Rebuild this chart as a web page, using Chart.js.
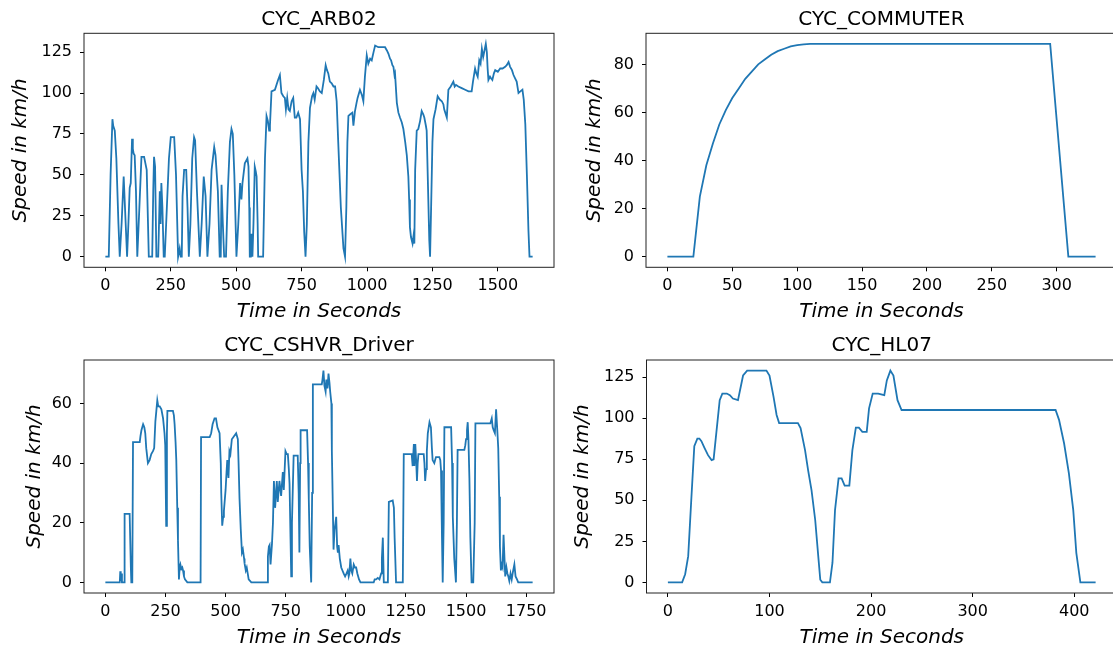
<!DOCTYPE html>
<html>
<head>
<meta charset="utf-8">
<script src="https://cdn.jsdelivr.net/npm/chart.js@4"></script>
<style>
  html, body { margin: 0; padding: 0; background: #fff; width: 1113px; height: 649px; overflow: hidden; position: relative; }
  canvas { position: absolute; }
</style>
</head>
<body>
<canvas id="arb"></canvas>
<canvas id="commuter"></canvas>
<canvas id="cshvr"></canvas>
<canvas id="hl07"></canvas>
<script>
// CYC_ARB02
const arbTime = [0,13,20,27,30,36,42,50,55,62,70,75,83,88,93,97,102,105,108,112,117,122,130,138,148,158,166,179,183,186,190,195,202,208,211,214,218,223,227,235,243,250,263,270,278,281,284,288,292,295,301,309,314,319,325,332,339,343,350,361,368,376,380,383,390,398,406,416,421,430,437,441,444,449,454,461,468,476,482,487,493,501,508,515,520,524,533,543,547,550,552,556,559,562,566,571,575,578,582,584,603,610,616,621,626,629,635,648,660,667,673,680,686,690,695,700,705,712,718,724,730,737,744,750,755,760,765,770,776,782,790,795,800,807,812,820,827,835,842,847,852,858,865,872,878,884,890,900,910,916,921,925,929,936,944,948,954,960,964,973,980,986,992,999,1005,1012,1018,1025,1031,1043,1055,1069,1076,1082,1088,1092,1097,1101,1105,1107,1114,1120,1126,1133,1139,1146,1152,1158,1161,1164,1168,1171,1174,1178,1181,1184,1190,1196,1203,1209,1215,1219,1225,1228,1232,1238,1241,1245,1250,1254,1262,1270,1278,1286,1292,1295,1305,1311,1320,1330,1335,1340,1349,1362,1375,1388,1400,1405,1413,1418,1423,1429,1434,1439,1444,1449,1454,1458,1461,1464,1470,1474,1479,1485,1490,1500,1509,1518,1528,1534,1541,1547,1554,1560,1566,1572,1579,1586,1594,1599,1605,1611,1617,1621,1633];
const arbSpeed = [0,0,50,84,80,77,60,20,0,20,49,30,0,20,42,45,72,66,63,62,40,0,30,61,61,53,0,0,40,61,55,0,0,40,20,45,30,0,0,30,60,73,73,50,0,0,5,0,0,37,53,53,30,0,20,60,73,71,40,0,20,49,42,37,0,20,53,67,62,40,0,0,44,20,0,0,40,70,78,75,50,0,20,45,35,45,57,60,55,30,0,0,14,0,20,55,52,49,20,0,0,60,86,83,77,80,101,102,108,111,100,98,97,90,97,90,89,95,97,85,85,88,84,53,40,15,0,20,70,91,98,100,96,104,103,101,100,108,117,114,112,107,106,104,104,95,70,30,5,0,30,70,86,87,88,80,89,94,97,102,99,95,110,123,118,121,120,125,129,128,128,128,126,124,121,120,117,116,111,112,94,88,85,82,78,70,62,49,35,18,12,10,8,13,8,53,77,78,83,89,87,85,80,77,50,10,0,30,70,84,90,98,96,95,93,90,85,102,104,107,104,105,104,103,102,101,101,107,115,112,110,120,118,127,122,126,130,125,115,108,110,109,108,112,114,113,115,115,116,117,119,116,114,111,109,107,100,101,102,96,81,50,16,0,0];
const arbXTicks = [0,250,500,750,1000,1250,1500];
const arbYTicks = [0,25,50,75,100,125];

// CYC_COMMUTER
const comTime = [0,20,25,30,35,40,45,50,55,60,65,70,75,80,85,90,95,100,105,110,295,309,330];
const comSpeed = [0,0,25,38,47,55,61,66,70,74,77,80,82,84,85.5,86.5,87.5,88,88.3,88.5,88.5,0,0];
const comXTicks = [0,50,100,150,200,250,300];
const comYTicks = [0,20,40,60,80];

// CYC_CSHVR_Driver
const cshTime = [0,60,62,64,67,69,78,80,101,106,108,112,115,143,146,150,157,162,166,170,177,184,191,198,203,208,212,216,220,226,233,240,246,249,253,256,258,281,285,288,292,295,299,302,306,309,312,316,320,323,327,331,341,396,398,434,440,446,454,460,466,475,480,482,486,490,493,500,504,507,512,516,520,526,535,544,551,554,558,563,568,572,577,579,584,588,592,596,607,673,676,680,683,687,693,697,701,706,713,717,724,731,738,742,749,754,759,763,766,770,773,776,783,800,804,807,810,812,839,843,846,850,856,860,863,900,903,907,911,916,919,924,928,932,935,940,942,945,949,953,957,960,964,967,970,975,981,986,991,997,1003,1008,1012,1015,1019,1023,1027,1033,1038,1043,1048,1055,1061,1116,1120,1126,1133,1140,1147,1150,1154,1158,1175,1179,1195,1200,1203,1209,1237,1241,1274,1278,1283,1285,1289,1293,1296,1299,1302,1324,1327,1330,1334,1337,1341,1348,1354,1358,1361,1368,1375,1389,1393,1396,1400,1403,1407,1410,1438,1442,1445,1451,1458,1462,1465,1493,1497,1500,1504,1507,1510,1514,1518,1523,1530,1536,1539,1601,1607,1611,1615,1620,1625,1630,1634,1638,1641,1645,1648,1652,1656,1660,1663,1668,1672,1676,1680,1685,1690,1695,1701,1706,1712,1717,1777];
const cshSpeed = [0,0,3.7,0.5,3,0,0,23,23,5,0,0,47,47,49,51,53,52,50,45,40,41,43,44,45,54,57.5,61,59,59,58,55,50,46,19,50,57.5,57.5,56,53,47,41,25,14,1,5,6,4.5,5,4,2,1,0,0,48.7,48.7,50,53,55,55,52,50,40,30,19,22,24,31,37,41,35,44,43,48,49,50,48,40,28,18,10,11,8,6.4,4,5,3,1,0,0,8.7,12,12.5,6,13,20,34,25,34,27,34,29,37,31,44,43,43,38,33,15,2,20,42.5,42.5,30,10,40,51,51,40,28,12,0,30,66.4,66.4,68,71,66,64,68,65,70,67,64,60,44,30,11,17.5,20,22,12,10,12.5,8,5,4,3,2,3,4,2,3,8,4,3,6,5,5,3,1,0,0,1,1,1.5,1,3,8,15,0,0,27,27.5,25,15,0,0,43,43,39,46.4,39,46.4,40,34,40,43,43,40,34,38,44,50,53.7,52,45,41,40,42,42,41,37.5,15,0,20,52,52,40,22,8,0,20,44.4,44.4,46,48,51,53.7,48,35,15,0,0,20,53.3,53.3,55,52,51,50,58,51,45,28.7,12,4,6,5,16,8,2,5,3,2,0.5,3,1,3.5,6,2,1,0,0];
const cshXTicks = [0,250,500,750,1000,1250,1500,1750];
const cshYTicks = [0,20,40,60];

// CYC_HL07
const hlTime = [0,14,17,20,23,26,29,31,33,36,39.5,43,45,48,51,53.6,58,61,64,69,71,74,78,97,100,104,107,109.5,128,130.6,135,138,141.4,145,148,150,152,159.5,162,164.5,168,171,174,178.6,181.6,185,188,191.4,195.7,198,201.6,207,213,215.5,219,222,226,230,381.6,385,390,394.7,399,402,406,421];
const hlSpeed = [0,0,5,16,50,83,87.6,87.6,86,82,77.5,74.5,75,93,111,115,115,114,112,111,117,126,129,129,126,113,102,97,97,94,80.6,68.4,56,38,16,1.6,0,0,12,44,63.4,63.4,59,59,80.6,94.3,94.3,91.7,91.7,106,115,115,114,123,129,126,111,105,105,99,84.6,66.4,44,18,0,0];
const hlXTicks = [0,100,200,300,400];
const hlYTicks = [0,25,50,75,100,125];

Chart.defaults.font.family = "'DejaVu Sans', sans-serif";
Chart.defaults.color = '#000';

// full box around the plot area, like matplotlib spines
const frame = {
  id: 'frame',
  afterDraw(chart) {
    const a = chart.chartArea;
    const ctx = chart.ctx;
    ctx.save();
    ctx.strokeStyle = '#222';
    ctx.lineWidth = 1;
    ctx.strokeRect(a.left, a.top, a.right - a.left, a.bottom - a.top);
    ctx.restore();
  }
};

function limits(vals) {
  const lo = Math.min(...vals), hi = Math.max(...vals);
  const m = (hi - lo) * 0.05;
  return [lo - m, hi + m];
}

function drawCycle(id, title, times, speeds, xTicks, yTicks, box, area, yLabelX, xLabelY) {
  const canvas = document.getElementById(id);
  canvas.width = box.width;
  canvas.height = box.height;
  canvas.style.left = box.left + 'px';
  canvas.style.top = box.top + 'px';

  const [xMin, xMax] = limits(times);
  const [yMin, yMax] = limits(speeds);
  const yAxisW = area.left - box.left;
  const xAxisH = box.top + box.height - area.bottom;

  new Chart(canvas, {
    type: 'line',
    data: {
      datasets: [{
        data: times.map((t, i) => ({ x: t, y: speeds[i] })),
        borderColor: '#1f77b4',
        borderWidth: 1.8,
        pointRadius: 0,
        tension: 0,
        fill: false
      }]
    },
    options: {
      responsive: false,
      animation: false,
      devicePixelRatio: 1,
      layout: { padding: { left: 0, top: 0, bottom: 0, right: box.left + box.width - area.right } },
      plugins: {
        legend: { display: false },
        tooltip: { enabled: false },
        title: {
          display: true,
          text: title,
          fullSize: false,
          color: '#000',
          font: { size: 20, weight: 'normal' },
          padding: { top: area.top - box.top - 26, bottom: 2 }
        }
      },
      scales: {
        x: {
          type: 'linear',
          min: xMin,
          max: xMax,
          afterBuildTicks: s => { s.ticks = xTicks.map(v => ({ value: v })); },
          afterFit: s => { s.height = xAxisH; },
          ticks: { autoSkip: false, maxRotation: 0, padding: 5, color: '#000', font: { size: 16 }, callback: v => String(v) },
          grid: { drawOnChartArea: false, drawTicks: true, tickLength: 4, tickColor: '#000' },
          border: { display: false },
          title: {
            display: true,
            text: 'Time in Seconds',
            color: '#000',
            font: { size: 20, style: 'italic' },
            padding: { top: 0, bottom: box.top + box.height - xLabelY - 12 }
          }
        },
        y: {
          type: 'linear',
          min: yMin,
          max: yMax,
          afterBuildTicks: s => { s.ticks = yTicks.map(v => ({ value: v })); },
          afterFit: s => { s.width = yAxisW; },
          ticks: { autoSkip: false, padding: 8, color: '#000', font: { size: 16 }, callback: v => String(v) },
          grid: { drawOnChartArea: false, drawTicks: true, tickLength: 4, tickColor: '#000' },
          border: { display: false },
          title: {
            display: true,
            text: 'Speed in km/h',
            color: '#000',
            font: { size: 20, style: 'italic' },
            padding: { top: yLabelX - box.left - 12, bottom: 0 }
          }
        }
      }
    },
    plugins: [frame]
  });
}

drawCycle('arb', 'CYC_ARB02', arbTime, arbSpeed, arbXTicks, arbYTicks,
  { left: 0, top: 0, width: 560, height: 330 },
  { left: 84, top: 33.3, right: 554, bottom: 267.3 }, 21, 312);

drawCycle('commuter', 'CYC_COMMUTER', comTime, comSpeed, comXTicks, comYTicks,
  { left: 560, top: 0, width: 565, height: 330 },
  { left: 646, top: 33.3, right: 1117, bottom: 267.3 }, 595, 312);

drawCycle('cshvr', 'CYC_CSHVR_Driver', cshTime, cshSpeed, cshXTicks, cshYTicks,
  { left: 0, top: 326, width: 560, height: 323 },
  { left: 84, top: 360, right: 554, bottom: 593 }, 35, 638);

drawCycle('hl07', 'CYC_HL07', hlTime, hlSpeed, hlXTicks, hlYTicks,
  { left: 560, top: 326, width: 565, height: 323 },
  { left: 646.5, top: 360, right: 1117, bottom: 593 }, 583, 638);
</script>
</body>
</html>
